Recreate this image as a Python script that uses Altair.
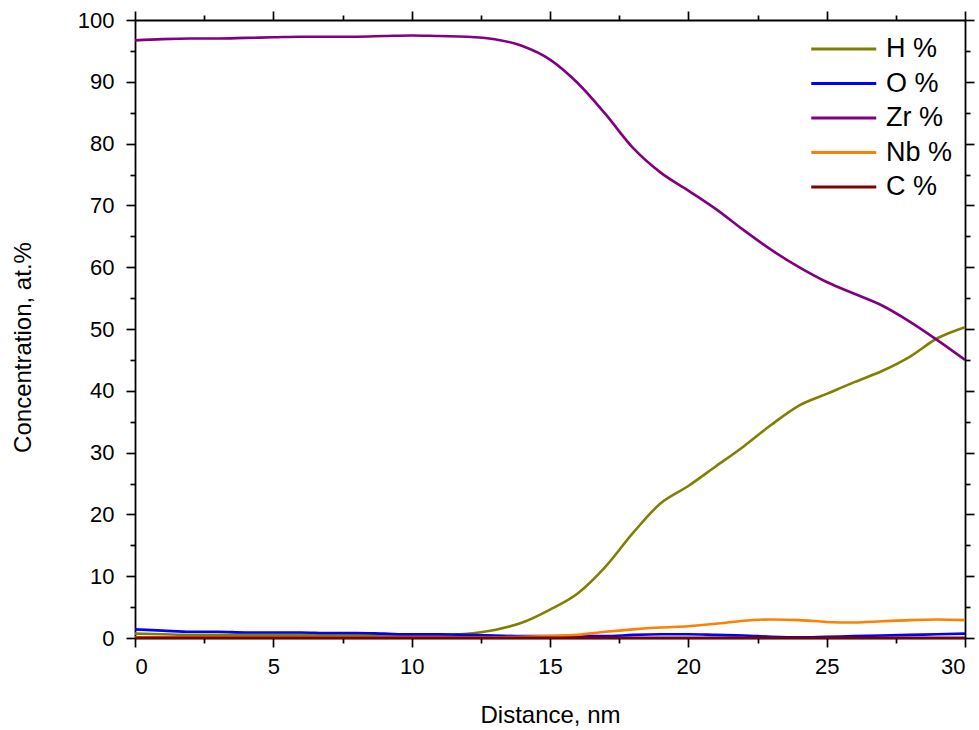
import altair as alt
import pandas as pd

distance = list(range(0, 31))
h_pct = [0.7, 0.6, 0.5, 0.5, 0.5, 0.5, 0.5, 0.5, 0.5, 0.5, 0.5, 0.5, 0.7, 1.3, 2.5, 4.6,
         7.2, 11.5, 17.0, 21.8, 24.6, 27.8, 31.0, 34.5, 37.6, 39.5, 41.4, 43.2, 45.5, 48.5, 50.3]
o_pct = [1.4, 1.2, 1.0, 1.0, 0.9, 0.9, 0.9, 0.8, 0.8, 0.7, 0.6, 0.6, 0.5, 0.4, 0.3, 0.3,
         0.3, 0.3, 0.5, 0.6, 0.6, 0.5, 0.4, 0.2, 0.1, 0.2, 0.3, 0.4, 0.5, 0.6, 0.7]
zr_pct = [96.7, 96.9, 97.0, 97.0, 97.1, 97.2, 97.3, 97.3, 97.3, 97.4, 97.5, 97.4, 97.3, 96.9,
          95.8, 93.6, 89.8, 84.8, 79.3, 75.3, 72.4, 69.4, 66.0, 62.8, 60.0, 57.6, 55.7, 53.8,
          51.2, 48.2, 45.0]
nb_pct = [0.1, 0.1, 0.1, 0.1, 0.1, 0.1, 0.1, 0.1, 0.1, 0.1, 0.1, 0.1, 0.1, 0.1, 0.2, 0.3,
          0.5, 1.0, 1.4, 1.7, 1.9, 2.3, 2.8, 3.0, 2.9, 2.6, 2.5, 2.7, 2.9, 3.0, 2.9]
c_pct = [0.05] * 31

series_names = ["H %", "O %", "Zr %", "Nb %", "C %"]
series_colors = ["#808000", "#0000FF", "#800080", "#FF8000", "#800000"]
series_values = [h_pct, o_pct, zr_pct, nb_pct, c_pct]

x_major = [0, 5, 10, 15, 20, 25, 30]
x_minor = [2.5, 7.5, 12.5, 17.5, 22.5, 27.5]
y_major = [0, 10, 20, 30, 40, 50, 60, 70, 80, 90, 100]
y_minor = [5, 15, 25, 35, 45, 55, 65, 75, 85, 95]

rows = []
for name, vals in zip(series_names, series_values):
    for d, v in zip(distance, vals):
        rows.append({"Distance": d, "Value": v, "Series": name})
df = pd.DataFrame(rows)

FONT = "Liberation Sans"
W, H = 830, 618
xs = alt.Scale(domain=[0, 30], nice=False, zero=False)
ys = alt.Scale(domain=[0, 100], nice=False, zero=False)

def ax(orient, values, labels, size, domain, title=None, pad=10, tx=None, ty=None):
    kw = dict(orient=orient, values=values, labels=labels, ticks=True, tickSize=size,
              tickWidth=1.7, tickColor="black", domain=domain, domainColor="black",
              domainWidth=1.8, grid=False)
    if labels:
        kw.update(labelFont=FONT, labelFontSize=22, labelColor="black", labelPadding=pad,
                  format="d")
    if title:
        kw.update(title=title, titleFont=FONT, titleFontSize=24, titleFontWeight="normal",
                  titleColor="black", titleX=tx, titleY=ty, titleAlign="center",
                  titleBaseline="middle")
    else:
        kw.update(title=None)
    return alt.Axis(**kw)

lines = alt.Chart(df).mark_line(strokeWidth=2.6, interpolate="monotone").encode(
    x=alt.X("Distance:Q", scale=xs,
            axis=ax("bottom", x_major, True, 9, True, "Distance, nm", pad=9,
                    tx=W / 2, ty=77)),
    y=alt.Y("Value:Q", scale=ys,
            axis=ax("left", y_major, True, 9, True, "Concentration, at.%", pad=12,
                    tx=-112, ty=327)),
    color=alt.Color("Series:N", sort=series_names,
                    scale=alt.Scale(domain=series_names, range=series_colors),
                    legend=alt.Legend(orient="none", legendX=707, legendY=11, title=None,
                                      symbolType="M-3,0H1", symbolSize=1056,
                                      symbolStrokeWidth=3, labelFont=FONT,
                                      labelFontSize=27, labelColor="black",
                                      labelOffset=8, rowPadding=3.5, padding=0)),
    order=alt.Order("Series:N"),
)

def tick_layer(xorient, xvals, xsize, xdomain, yorient, yvals, ysize, ydomain):
    return alt.Chart(df).mark_line(opacity=0).encode(
        x=alt.X("Distance:Q", scale=xs, axis=ax(xorient, xvals, False, xsize, xdomain)),
        y=alt.Y("Value:Q", scale=ys, axis=ax(yorient, yvals, False, ysize, ydomain)),
        detail="Series:N",
    )

frame = tick_layer("top", x_major, 9, True, "right", y_major, 9, True)
minor1 = tick_layer("bottom", x_minor, 5, False, "left", y_minor, 5, False)
minor2 = tick_layer("top", x_minor, 5, False, "right", y_minor, 5, False)

chart = alt.layer(lines, frame, minor1, minor2).resolve_axis(
    x="independent", y="independent"
).properties(
    width=W, height=H,
    autosize=alt.AutoSizeParams(type="none"),
    padding={"left": 135, "top": 20, "right": 14, "bottom": 92},
    background="white",
).configure_view(stroke=None)

chart.save("out.html", embed_options={"renderer": "svg", "actions": False})
